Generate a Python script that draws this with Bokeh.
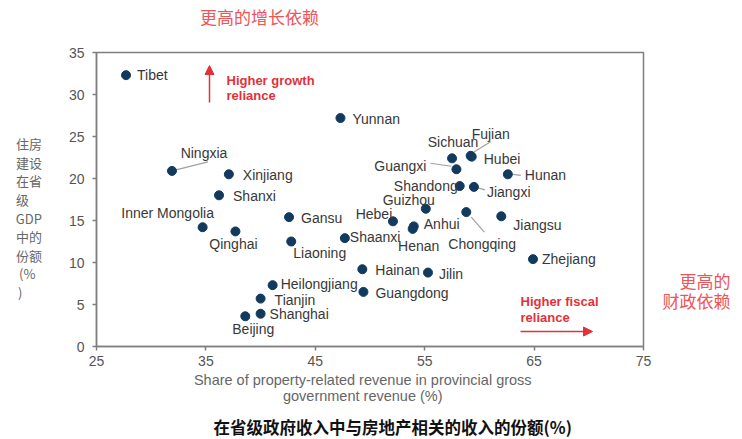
from bokeh.plotting import figure
from bokeh.models import ColumnDataSource, Label, Arrow, NormalHead, FixedTicker, Range1d, LinearAxis, Title
from bokeh.core.properties import value
from bokeh.embed import file_html
from bokeh.resources import INLINE

# ---------------- data ----------------
provinces = ["Tibet", "Yunnan", "Ningxia", "Xinjiang", "Shanxi", "Inner Mongolia",
             "Qinghai", "Gansu", "Liaoning", "Shaanxi", "Hebei", "Guizhou", "Anhui",
             "Henan", "Chongqing", "Jiangsu", "Zhejiang", "Hainan", "Jilin",
             "Guangdong", "Heilongjiang", "Tianjin", "Shanghai", "Beijing",
             "Sichuan", "Fujian", "Hubei", "Guangxi", "Hunan", "Shandong", "Jiangxi"]
property_revenue_share = [27.7, 47.3, 31.9, 37.1, 36.2, 34.7,
                          37.7, 42.6, 42.8, 47.7, 52.1, 55.1, 54.0,
                          53.9, 58.8, 62.0, 64.9, 49.3, 55.3,
                          49.4, 41.1, 40.0, 40.0, 38.6,
                          57.5, 59.2, 59.3, 57.9, 62.6, 58.2, 59.5]
housing_gdp_share = [32.3, 27.2, 20.9, 20.5, 18.0, 14.2,
                     13.7, 15.4, 12.5, 12.9, 14.9, 16.4, 14.3,
                     14.0, 16.0, 15.5, 10.4, 9.2, 8.8,
                     6.5, 7.3, 5.7, 3.9, 3.6,
                     22.4, 22.7, 22.6, 21.1, 20.5, 19.1, 19.0]
x_ticks = [25, 35, 45, 55, 65, 75]
y_ticks = [0, 5, 10, 15, 20, 25, 30, 35]

# ---------------- layout ----------------
W, H = 742, 439
FL, FR, FT, FB = 96, 643, 52, 346
X0, X1, Y0, Y1 = 25, 75, 0, 35
SX = (FR - FL) / (X1 - X0)
SY = (FB - FT) / (Y1 - Y0)


def page(px, py):
    return X0 + (px - FL) / SX, Y1 - (py - FT) / SY


# label offsets in screen px (dx right, dy down), align, leader line offsets
label_layout = {
    "Tibet": (11, 0, "left", None),
    "Yunnan": (12, 1, "left", None),
    "Ningxia": (32, -18, "center", (4, -1, 36, -9)),
    "Xinjiang": (14, 1, "left", None),
    "Shanxi": (14, 1, "left", None),
    "Inner Mongolia": (-35, -14, "center", None),
    "Qinghai": (-2, 13, "center", None),
    "Gansu": (12, 1, "left", None),
    "Liaoning": (2, 11, "left", None),
    "Shaanxi": (5, -1, "left", None),
    "Hebei": (-19, -7, "center", None),
    "Guizhou": (-17, -9, "center", None),
    "Anhui": (10, -2, "left", None),
    "Henan": (6, 17, "center", None),
    "Chongqing": (-18, 32, "left", (5, 5, 18, 20)),
    "Jiangsu": (12, 9, "left", None),
    "Zhejiang": (9, 0, "left", None),
    "Hainan": (13, 1, "left", None),
    "Jilin": (11, 1, "left", None),
    "Guangdong": (12, 1, "left", None),
    "Heilongjiang": (8, -1, "left", None),
    "Tianjin": (14, 1, "left", None),
    "Shanghai": (9, 0, "left", None),
    "Beijing": (8, 13, "center", None),
    "Sichuan": (1, -16, "center", None),
    "Fujian": (1, -22, "left", (2, -3, 20, -14)),
    "Hubei": (12, 2, "left", None),
    "Guangxi": (-30, -3, "right", (-26, -6, -5, -3)),
    "Hunan": (17, 1, "left", (5, 0, 13, 1)),
    "Shandong": (-2, 0, "right", None),
    "Jiangxi": (13, 5, "left", (4, 1, 11, 3)),
}

lx, ly, la = [], [], []
sx0, sy0, sx1, sy1 = [], [], [], []
for name, xv, yv in zip(provinces, property_revenue_share, housing_gdp_share):
    dx, dy, al, leader = label_layout[name]
    lx.append(xv + dx / SX)
    ly.append(yv - dy / SY)
    la.append(al)
    if leader:
        a, b, c, d = leader
        sx0.append(xv + a / SX); sy0.append(yv - b / SY)
        sx1.append(xv + c / SX); sy1.append(yv - d / SY)

RED_CN = "#ee5559"
RED_EN = "#e2313a"
GRAY = "#555555"
NAVY = "#123a5e"
AXC = "#7f7f7f"
CJK = "Noto Sans CJK SC"
IS = "\u3000"  # ideographic space, used as padding

p = figure(width=W, height=H, x_range=Range1d(X0, X1), y_range=Range1d(Y0, Y1),
           output_backend="svg", toolbar_location=None,
           min_border_left=FL, min_border_right=W - FR,
           min_border_top=FT, min_border_bottom=H - FB)
p.grid.visible = False
p.outline_line_color = AXC
p.outline_line_width = 1.5
p.background_fill_color = "white"
p.border_fill_color = "white"

for ax in (p.xaxis[0], p.yaxis[0]):
    ax.axis_line_color = AXC
    ax.axis_line_width = 1.5
    ax.major_tick_line_color = AXC
    ax.major_tick_line_width = 1.5
    ax.major_tick_in = 0
    ax.major_tick_out = 4
    ax.minor_tick_line_color = None
    ax.major_label_text_font = "Liberation Sans"
    ax.major_label_text_font_size = "14px"
    ax.major_label_text_color = GRAY
p.xaxis.ticker = FixedTicker(ticks=x_ticks)
p.yaxis.ticker = FixedTicker(ticks=y_ticks)
p.xaxis.major_label_standoff = 5
p.yaxis.major_label_standoff = 8

HAS_ORIENT = "axis_label_orientation" in LinearAxis.properties()

# x-axis title (English, two lines)
p.xaxis.axis_label = ("Share of property-related revenue in provincial gross\u2003\n"
                      "government revenue (%)\u2003")
p.xaxis.axis_label_text_font = "Liberation Sans"
p.xaxis.axis_label_text_font_size = "14.5px"
p.xaxis.axis_label_text_font_style = "normal"
p.xaxis.axis_label_text_color = "#666666"
p.xaxis.axis_label_text_line_height = 1.03
p.xaxis.axis_label_standoff = 3

# y-axis title: stacked Chinese lines
ylab_lines = [IS, IS, "住房", "建设", "在省", "级" + IS, "GDP", "中的", "份额",
              "(%\u2002", ")" + IS + "\u2002"]
p.yaxis.axis_label = "\n".join(ylab_lines)
p.yaxis.axis_label_text_font = CJK
p.yaxis.axis_label_text_font_size = "13px"
p.yaxis.axis_label_text_font_style = "normal"
p.yaxis.axis_label_text_color = "#666666"
p.yaxis.axis_label_text_line_height = 0.98
p.yaxis.axis_label_standoff = 24
if HAS_ORIENT:
    p.yaxis.axis_label_orientation = "horizontal"


def empty_axis():
    return LinearAxis(ticker=FixedTicker(ticks=[]), axis_line_color=None,
                      major_tick_line_color=None, minor_tick_line_color=None,
                      major_tick_in=0, major_tick_out=0, major_label_standoff=0,
                      major_label_text_font_size="0px")


# right-side note
rax = empty_axis()
rax.axis_label = "\n".join([IS] * 9 + [IS + "更高的", "财政依赖"])
rax.axis_label_text_font = CJK
rax.axis_label_text_font_size = "17px"
rax.axis_label_text_font_style = "normal"
rax.axis_label_text_color = RED_CN
rax.axis_label_text_line_height = 0.81
rax.axis_label_standoff = 19
if HAS_ORIENT:
    rax.axis_label_orientation = "horizontal"
p.add_layout(rax, "right")

# top note
tax = empty_axis()
tax.axis_label = "更高的增长依赖" + IS * 13
tax.axis_label_text_font = CJK
tax.axis_label_text_font_size = "17px"
tax.axis_label_text_font_style = "normal"
tax.axis_label_text_color = RED_CN
tax.axis_label_standoff = 24
p.add_layout(tax, "above")

# bottom Chinese title (a leading empty line pushes it a little lower)
t3 = Title(text=IS + "\n在省级政府收入中与房地产相关的收入的份额(%)", align="left", offset=117,
           text_font=CJK, text_font_size="16.5px", text_font_style="bold",
           text_color="#111111", text_line_height=0.28, standoff=0)
p.add_layout(t3, "below")

src = ColumnDataSource(dict(x=property_revenue_share, y=housing_gdp_share, name=provinces,
                            lx=lx, ly=ly, la=la))
p.segment(x0=sx0, y0=sy0, x1=sx1, y1=sy1, line_color="#a0a0a0", line_width=1.2)
p.scatter("x", "y", source=src, size=9, fill_color=NAVY, line_color=NAVY)
p.text("lx", "ly", text="name", source=src, text_align="la", text_baseline="middle",
       text_font=value("Liberation Sans"), text_font_size="14px", text_color="#383838")


def lab(px, py, txt, size, color, align="left", font="Liberation Sans", style="normal"):
    x, y = page(px, py)
    p.add_layout(Label(x=x, y=y, text=txt, text_font=font, text_font_size=size,
                       text_color=color, text_align=align, text_baseline="middle",
                       text_font_style=style))


lab(226, 80, "Higher growth", "13px", RED_EN, "left", style="bold")
lab(226, 94.5, "reliance", "13px", RED_EN, "left", style="bold")
lab(520, 300.5, "Higher fiscal", "13px", RED_EN, "left", style="bold")
lab(520, 316.5, "reliance", "13px", RED_EN, "left", style="bold")

ax0, ay0 = page(209, 102)
ax1, ay1 = page(209, 65)
p.add_layout(Arrow(end=NormalHead(size=9, fill_color=RED_EN, line_color=RED_EN),
                   x_start=ax0, y_start=ay0, x_end=ax1, y_end=ay1,
                   line_color=RED_EN, line_width=1.5))
bx0, by0 = page(520, 331)
bx1, by1 = page(592, 331)
p.add_layout(Arrow(end=NormalHead(size=9, fill_color=RED_EN, line_color=RED_EN),
                   x_start=bx0, y_start=by0, x_end=bx1, y_end=by1,
                   line_color=RED_EN, line_width=1.5))

open("out.html", "w").write(file_html(p, INLINE))
